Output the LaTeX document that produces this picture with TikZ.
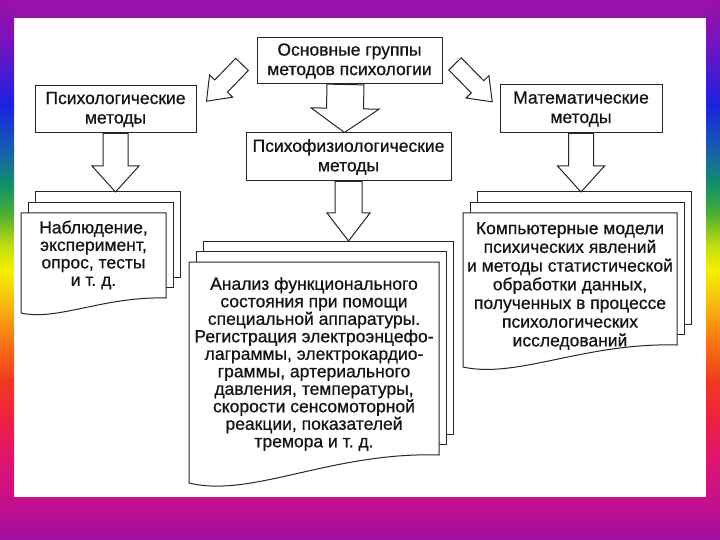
\documentclass[tikz,border=0pt]{standalone}
\usepackage{fontspec}
\setmainfont{Liberation Sans}[FakeBold=0.7]
\frenchspacing
\usetikzlibrary{calc}

\definecolor{inkline}{HTML}{262626}
\definecolor{inktext}{HTML}{141414}
\definecolor{rb0}{HTML}{9A10AA}
\definecolor{rb1}{HTML}{7A12BE}
\definecolor{rb2}{HTML}{1A22E0}
\definecolor{rb3}{HTML}{1860B0}
\definecolor{rb4}{HTML}{10906A}
\definecolor{rb5}{HTML}{50B030}
\definecolor{rb6}{HTML}{C0DC10}
\definecolor{rb7}{HTML}{F4F000}
\definecolor{rb8}{HTML}{F8C010}
\definecolor{rb9}{HTML}{F88010}
\definecolor{rb10}{HTML}{F03A20}
\definecolor{rb11}{HTML}{EC2040}
\definecolor{rb12}{HTML}{E01470}
\definecolor{rb13}{HTML}{C8108A}
\definecolor{rb14}{HTML}{A00EA2}

% hollow block arrow: from, to, half shaft, half head, head length
\newcommand{\hollowarrow}[5]{%
  \coordinate (hb) at ($(#2)!#5!(#1)$);
  \draw[blockarrow] ($(#1)!#3!90:(#2)$) -- ($(hb)!#3!90:(#2)$) -- ($(hb)!#4!90:(#2)$)
    -- (#2) -- ($(hb)!#4!-90:(#2)$) -- ($(hb)!#3!-90:(#2)$) -- ($(#1)!#3!-90:(#2)$) -- cycle;}

% stack of three pages: left x, top y, width, right bottom y, left bottom y
\newcommand{\docstack}[5]{%
  \filldraw[page] (#1+14,#2-21) rectangle (#1+14+#3,#4-21);
  \filldraw[page] (#1+7,#2-10.5) rectangle (#1+7+#3,#4-10.5);
  \filldraw[page] (#1,#2) -- (#1+#3,#2) -- (#1+#3,#4)
    .. controls (#1+0.57*#3,#4-0.12*#5+0.12*#4) and (#1+0.25*#3,#5+0.55*#5-0.55*#4) .. (#1,#5) -- cycle;}

\begin{document}
\begin{tikzpicture}[x=1pt,y=-1pt,
  box/.style={draw=inkline,line width=1pt,fill=white,inner sep=0pt,align=center,
    text=inktext,font=\fontsize{17.5}{19.5}\selectfont},
  page/.style={draw=inkline,line width=1pt,fill=white},
  doctext/.style={align=center,inner sep=0pt,text=inktext,font=\fontsize{17.5}{17.5}\selectfont},
  blockarrow/.style={draw=inkline,line width=1pt,fill=white,line join=miter}]
\useasboundingbox (0,0) rectangle (720,540);

% Frame
\fill[white] (0,0) rectangle (720,540);
\fill[rb0] (0,0) rectangle (720,18);
\shade[top color=rb13,bottom color=rb14] (0,497) rectangle (720,540);
\foreach \xa/\xb in {0/14,706/720}
  \foreach \ya/\yb/\ca/\cb in {0/40/rb0/rb1,40/105/rb1/rb2,105/150/rb2/rb3,150/185/rb3/rb4,
      185/215/rb4/rb5,215/245/rb5/rb6,245/270/rb6/rb7,270/300/rb7/rb8,300/335/rb8/rb9,
      335/380/rb9/rb10,380/420/rb10/rb11,420/460/rb11/rb12,460/497/rb12/rb13}
    \shade[top color=\ca,bottom color=\cb] (\xa,\ya-0.5) rectangle (\xb,\yb+0.5);

% Boxes
\node[box,minimum width=185pt,minimum height=46pt] (main) at (349.5,61) {Основные группы\\методов психологии};
\node[box,minimum width=161pt,minimum height=47pt] (psych) at (115.5,109.5) {Психологические\\методы};
\node[box,minimum width=162pt,minimum height=48pt] (math) at (581,109) {Математические\\методы};
\node[box,minimum width=205pt,minimum height=48pt] (physio) at (348.5,157) {Психофизиологические\\методы};

% Documents
\docstack{21}{213}{145}{298}{313}
\docstack{189}{262}{250}{455}{483}
\docstack{463}{213}{214}{345}{367}
\coordinate (obs) at (115.5,192);
\coordinate (anl) at (348.5,241);
\coordinate (cmp) at (581,192);

% Arrows
\coordinate (d1a) at ([shift={(-14.5,3.4)}]main.west);
\coordinate (d1b) at ([shift={(10,15.7)}]psych.north east);
\hollowarrow{d1a}{d1b}{8.8pt}{16pt}{21pt}
\coordinate (d2a) at ([shift={(12.5,2.9)}]main.east);
\coordinate (d2b) at ([shift={(-7.3,17.3)}]math.north west);
\hollowarrow{d2a}{d2b}{8.7pt}{16pt}{21pt}
\coordinate (v1a) at ([xshift=-4pt]main.south);
\coordinate (v1b) at ([xshift=-4pt]physio.north);
\hollowarrow{v1a}{v1b}{18.5pt}{34pt}{24pt}
\hollowarrow{psych.south}{obs}{12.5pt}{23.5pt}{26pt}
\hollowarrow{physio.south}{anl}{13.5pt}{21.5pt}{28pt}
\hollowarrow{math.south}{cmp}{12.5pt}{23.5pt}{26pt}

% Texts
\node[doctext] (obstext) at (93.5,255) {Наблюдение,\\эксперимент,\\опрос, тесты\\и т. д.};
\node[doctext] (anltext) at (314,364) {Анализ функционального\\состояния при помощи\\специальной аппаратуры.\\Регистрация электроэнцефо-\\лаграммы, электрокардио-\\граммы, артериального\\давления, температуры,\\скорости сенсомоторной\\реакции, показателей\\тремора и т. д.};
\node[doctext,font=\fontsize{17.5}{18.7}\selectfont] (cmptext) at (570,286) {Компьютерные модели\\психических явлений\\и методы статистической\\обработки данных,\\полученных в процессе\\психологических\\исследований};
\end{tikzpicture}
\end{document}
